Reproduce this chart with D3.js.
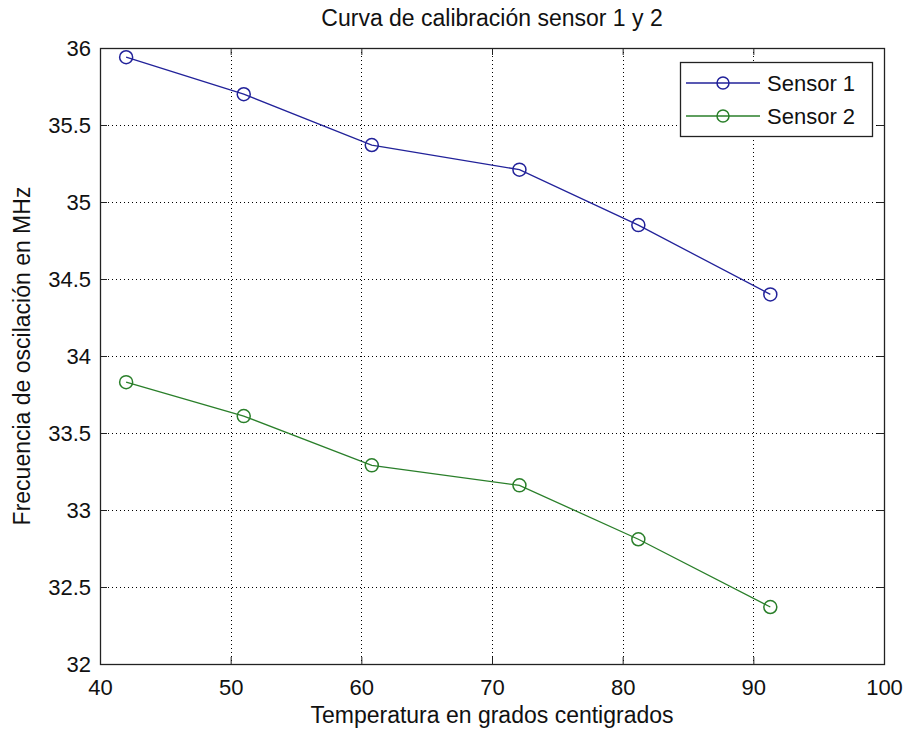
<!DOCTYPE html>
<html lang="en">
	<head>
		<meta charset="utf-8">
		<title>Curva de calibración sensor 1 y 2</title>
		<script src="https://cdnjs.cloudflare.com/ajax/libs/d3/7.8.5/d3.min.js"></script>
		<style type="text/css">
			body { margin: 0; background: #fff; }
			text { font-family: "Liberation Sans", Arial, sans-serif; fill: #111; }
			.grid line { stroke: #000; stroke-dasharray: 1,3; stroke-width: 1; }
		</style>
	</head>
	<body>
		<div id="container"></div>
		<script type="text/javascript">

			// data
			var temps = [42, 51, 60.8, 72.1, 81.2, 91.3];
			var sensor1 = [35.94, 35.70, 35.37, 35.21, 34.85, 34.40];
			var sensor2 = [33.83, 33.61, 33.29, 33.16, 32.81, 32.37];
			var seriesNames = ["Sensor 1", "Sensor 2"];
			var xTicks = [40, 50, 60, 70, 80, 90, 100];
			var yTicks = [32, 32.5, 33, 33.5, 34, 34.5, 35, 35.5, 36];

			var width = 905, height = 731;
			var mLeft = 100, mRight = 884, mTop = 48, mBottom = 664;
			var colors = ["#22229a", "#2a7f2a"];

			var svg = d3.select("#container").append("svg")
				.attr("width", width)
				.attr("height", height);

			var x = d3.scaleLinear().domain([40, 100]).range([mLeft, mRight]);
			var y = d3.scaleLinear().domain([32, 36]).range([mBottom, mTop]);

			// grid
			var grid = svg.append("g").attr("class", "grid");
			grid.selectAll(".gx")
				.data(xTicks.slice(1, -1))
				.enter().append("line")
				.attr("x1", function(d) { return Math.round(x(d)) + 0.5; })
				.attr("x2", function(d) { return Math.round(x(d)) + 0.5; })
				.attr("y1", mTop).attr("y2", mBottom);
			grid.selectAll(".gy")
				.data(yTicks.slice(1, -1))
				.enter().append("line")
				.attr("y1", function(d) { return Math.round(y(d)) + 0.5; })
				.attr("y2", function(d) { return Math.round(y(d)) + 0.5; })
				.attr("x1", mLeft).attr("x2", mRight);

			// axes with inward ticks on all sides
			var tl = 7;
			svg.append("g")
				.attr("transform", "translate(0," + mBottom + ")")
				.call(d3.axisBottom(x).tickValues(xTicks).tickSizeInner(-tl).tickSizeOuter(0).tickPadding(12))
				.call(function(g) {
					g.select(".domain").remove();
					g.selectAll("line").attr("stroke", "#222");
					g.selectAll("text").style("font-size", "22px").attr("dy", "0.85em");
				});
			svg.append("g")
				.attr("transform", "translate(0," + mTop + ")")
				.call(d3.axisTop(x).tickValues(xTicks).tickSizeInner(-tl).tickSizeOuter(0).tickFormat(""))
				.call(function(g) { g.select(".domain").remove(); g.selectAll("line").attr("stroke", "#222"); });
			svg.append("g")
				.attr("transform", "translate(" + mLeft + ",0)")
				.call(d3.axisLeft(y).tickValues(yTicks).tickSizeInner(-tl).tickSizeOuter(0).tickPadding(9)
					.tickFormat(function(d) { return String(d); }))
				.call(function(g) {
					g.select(".domain").remove();
					g.selectAll("line").attr("stroke", "#222");
					g.selectAll("text").style("font-size", "22px");
				});
			svg.append("g")
				.attr("transform", "translate(" + mRight + ",0)")
				.call(d3.axisRight(y).tickValues(yTicks).tickSizeInner(-tl).tickSizeOuter(0).tickFormat(""))
				.call(function(g) { g.select(".domain").remove(); g.selectAll("line").attr("stroke", "#222"); });

			svg.append("rect")
				.attr("x", mLeft + 0.5).attr("y", mTop + 0.5)
				.attr("width", mRight - mLeft).attr("height", mBottom - mTop)
				.attr("fill", "none").attr("stroke", "#222").attr("stroke-width", 1.3);

			// lines and markers
			var series = [sensor1, sensor2];
			var line = d3.line()
				.x(function(d, i) { return x(temps[i]); })
				.y(function(d) { return y(d); });

			series.forEach(function(vals, k) {
				svg.append("path")
					.datum(vals)
					.attr("d", line)
					.attr("fill", "none")
					.attr("stroke", colors[k])
					.attr("stroke-width", 1.3);
				svg.selectAll(".m" + k)
					.data(vals)
					.enter().append("circle")
					.attr("class", "m" + k)
					.attr("cx", function(d, i) { return x(temps[i]); })
					.attr("cy", function(d) { return y(d); })
					.attr("r", 6.5)
					.attr("fill", "none")
					.attr("stroke", colors[k])
					.attr("stroke-width", 1.5);
			});

			// legend
			var lg = svg.append("g").attr("transform", "translate(680,62)");
			lg.append("rect")
				.attr("x", 0.5).attr("y", 0.5).attr("width", 192).attr("height", 74)
				.attr("fill", "#fff").attr("stroke", "#222").attr("stroke-width", 1.3);
			seriesNames.forEach(function(name, k) {
				var yy = 21 + k * 33;
				lg.append("line")
					.attr("x1", 6).attr("x2", 80).attr("y1", yy).attr("y2", yy)
					.attr("stroke", colors[k]).attr("stroke-width", 1.3);
				lg.append("circle")
					.attr("cx", 43).attr("cy", yy).attr("r", 6)
					.attr("fill", "none").attr("stroke", colors[k]).attr("stroke-width", 1.5);
				lg.append("text")
					.attr("x", 87).attr("y", yy).attr("dy", "0.35em")
					.style("font-size", "22px")
					.text(name);
			});

			// titles
			svg.append("text")
				.attr("x", (mLeft + mRight) / 2).attr("y", 26)
				.attr("text-anchor", "middle")
				.style("font-size", "23px")
				.text("Curva de calibración sensor 1 y 2");
			svg.append("text")
				.attr("x", (mLeft + mRight) / 2).attr("y", 723)
				.attr("text-anchor", "middle")
				.style("font-size", "23px")
				.text("Temperatura en grados centigrados");
			svg.append("text")
				.attr("transform", "translate(30," + (mTop + mBottom) / 2 + ") rotate(-90)")
				.attr("text-anchor", "middle")
				.style("font-size", "23px")
				.text("Frecuencia de oscilación en MHz");
		</script>
	</body>
</html>
